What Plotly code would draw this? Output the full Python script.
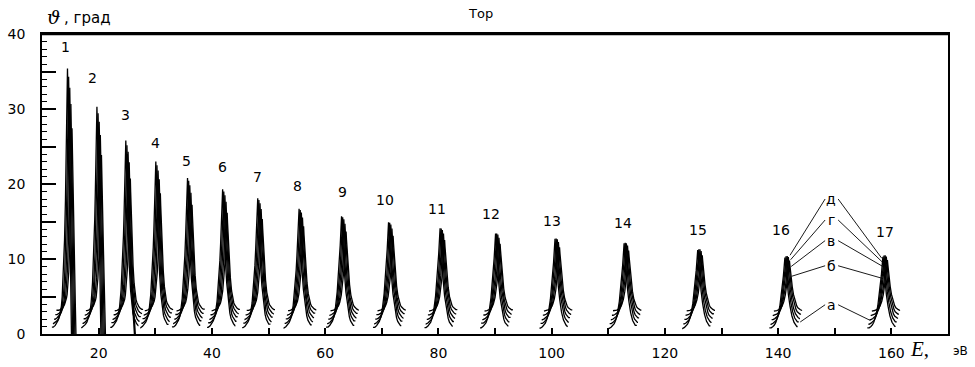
import plotly.graph_objects as go

# ---------------- data ----------------
PEAK_NUM = [str(i) for i in range(1, 18)]
PEAK_E = [14.5, 19.7, 24.8, 30.1, 35.7, 41.9, 48.1, 55.4, 62.9, 71.2,
          80.3, 90.1, 100.6, 112.8, 125.8, 141.2, 158.5]
PEAK_H = [35.2, 30.1, 25.6, 22.8, 20.6, 19.1, 17.9, 16.5, 15.5, 14.7,
          13.9, 13.2, 12.5, 11.9, 11.0, 10.0, 10.1]
# half width (eV) of the outer curve at half height
PEAK_W = [0.36, 0.39, 0.42, 0.45, 0.47, 0.49, 0.50, 0.52, 0.53, 0.54,
          0.55, 0.56, 0.57, 0.58, 0.60, 0.62, 0.62]

# number labels above peaks
LABEL_E = [14.1, 19.0, 24.7, 30.0, 35.6, 41.8, 48.0, 55.2, 63.0, 70.6,
           79.8, 89.3, 100.1, 112.6, 125.9, 140.5, 158.9]
LABEL_Y = [38.3, 34.1, 29.2, 25.5, 23.1, 22.3, 20.9, 19.7, 18.9, 17.9,
           16.7, 16.0, 15.1, 14.8, 13.9, 13.9, 13.6]

# five curves per peak: д, г, в, б, а
CURVE_NAMES = ['д', 'г', 'в', 'б', 'а']
CURVE_FRAC = [1.00, 0.95, 0.89, 0.81, 0.70]     # peak height relative to д
CURVE_WIDTH = [1.00, 0.95, 0.90, 0.85, 0.80]
CURVE_SHIFT = [0.00, 0.20, 0.40, 0.60, 0.80]
CURVE_TAIL = [0.2, 0.85, 1.5, 2.15, 2.8]         # base level of each wing
WING_L = 2.75                                    # extent of left wing, eV
WING_R = 2.25                                    # extent of right wing, eV

# peak profile (offset in half widths, fraction of height)
PU = [0.0, 0.18, 0.45, 0.73, 1.0, 1.45, 2.0, 2.6, 3.0, 3.4, 3.9, 4.5, 5.2, 6.0, 7.0, 8.0]
PF = [1.0, 0.9, 0.75, 0.62, 0.5, 0.35, 0.22, 0.135, 0.1, 0.08, 0.062, 0.047,
      0.036, 0.027, 0.02, 0.015]
# right side of peaks 1 and 2 falls straight to zero
DROP_PEAKS = [0, 1]
PD_DX = [0.0, 0.1, 0.2, 0.33, 0.47, 0.6, 0.7]
PD_F = [1.0, 0.9, 0.76, 0.57, 0.35, 0.14, 0.0]
# extra falling line of peak 3
DROP3_E = [25.0, 25.4, 25.9, 26.4]
DROP3_Y = [24.0, 14.0, 6.0, 0.0]

# letter labels and their leader lines (peaks 16 and 17)
LETTER_E = 149.4
LETTER_Y = [18.0, 15.2, 12.45, 9.1, 3.9]
LEAD_START_L = 148.3
LEAD_START_R = 150.6
LEAD_L_E = [142.1, 142.2, 142.3, 142.4, 143.9]
LEAD_L_Y = [10.5, 9.9, 9.0, 7.7, 1.6]
LEAD_R_E = [158.3, 158.4, 158.5, 158.5, 156.3]
LEAD_R_Y = [10.1, 9.6, 9.0, 7.4, 1.8]

X_TICKS = list(range(20, 161, 10))
X_LABELS = [str(v) if v % 20 == 0 else '' for v in X_TICKS]
Y_TICKS = list(range(0, 41, 5))
Y_LABELS = [str(v) if v % 10 == 0 else '' for v in Y_TICKS]


# ---------------- build curves ----------------
def wing(c, w, p, base, side, extent):
    px, py = [], []
    for u, f in zip(PU, PF):
        if u * w >= extent:
            break
        px.append(c + side * u * w)
        py.append(base + p * f)
    px.append(c + side * extent)
    py.append(py[-1])
    return px, py


xs, ys = [], []
for i, (c, h, w0) in enumerate(zip(PEAK_E, PEAK_H, PEAK_W)):
    for k in range(5):
        p = h * CURVE_FRAC[k]
        w = w0 * CURVE_WIDTH[k]
        cc = c + CURVE_SHIFT[k]
        lx_, ly_ = wing(cc, w, p, CURVE_TAIL[k], -1, WING_L)
        xs += lx_[::-1]
        ys += ly_[::-1]
        if i in DROP_PEAKS:
            for dx, f in zip(PD_DX[1:], PD_F[1:]):
                xs.append(cc + dx)
                ys.append(p * f)
        else:
            rx_, ry_ = wing(cc, w, p, CURVE_TAIL[k], 1, WING_R)
            xs += rx_[1:]
            ys += ry_[1:]
        xs.append(None)
        ys.append(None)

fig = go.Figure()
fig.add_trace(go.Scatter(x=xs, y=ys, mode='lines',
                         line=dict(color='black', width=1.3),
                         hoverinfo='skip'))
fig.add_trace(go.Scatter(x=DROP3_E, y=DROP3_Y, mode='lines',
                         line=dict(color='black', width=2.2),
                         hoverinfo='skip'))

# leader lines
lx, ly = [], []
for k in range(5):
    lx += [LEAD_L_E[k], LEAD_START_L, None, LEAD_START_R, LEAD_R_E[k], None]
    ly += [LEAD_L_Y[k], LETTER_Y[k], None, LETTER_Y[k], LEAD_R_Y[k], None]
fig.add_trace(go.Scatter(x=lx, y=ly, mode='lines',
                         line=dict(color='black', width=0.9),
                         hoverinfo='skip'))

# ---------------- annotations ----------------
ann = []
for t, e, y in zip(PEAK_NUM, LABEL_E, LABEL_Y):
    ann.append(dict(x=e, y=y, xref='x', yref='y', text=t, showarrow=False,
                    font=dict(family='DejaVu Sans', size=14, color='black')))
for t, y in zip(CURVE_NAMES, LETTER_Y):
    ann.append(dict(x=LETTER_E, y=y, xref='x', yref='y', text=t, showarrow=False,
                    font=dict(family='DejaVu Sans', size=14, color='black')))

ann.append(dict(x=0.003, y=1.057, xref='paper', yref='paper', text='<i>ϑ</i>',
                showarrow=False, xanchor='left', yanchor='middle',
                font=dict(family='DejaVu Serif', size=19, color='black')))
ann.append(dict(x=0.022, y=1.055, xref='paper', yref='paper', text=', град',
                showarrow=False, xanchor='left', yanchor='middle',
                font=dict(family='DejaVu Sans', size=15, color='black')))
ann.append(dict(x=0.4845, y=1.067, xref='paper', yref='paper', text='Тор',
                showarrow=False, xanchor='center', yanchor='middle',
                font=dict(family='DejaVu Sans', size=13, color='black')))
ann.append(dict(x=0.956, y=-0.05, xref='paper', yref='paper', text='<i>E</i>,',
                showarrow=False, xanchor='left', yanchor='middle',
                font=dict(family='Liberation Serif', size=21, color='black')))
ann.append(dict(x=1.003, y=-0.057, xref='paper', yref='paper', text='эВ',
                showarrow=False, xanchor='left', yanchor='middle',
                font=dict(family='DejaVu Sans', size=12, color='black')))

fig.update_layout(
    width=975, height=367,
    margin=dict(l=42, r=27, t=34, b=33),
    plot_bgcolor='white', paper_bgcolor='white',
    showlegend=False,
    annotations=ann,
    shapes=[dict(type='line', xref='paper', yref='paper', x0=0, x1=1, y0=1, y1=1,
                 line=dict(color='black', width=2.5))],
    xaxis=dict(range=[10, 170], showgrid=False, zeroline=False, automargin=False,
               showline=True, linecolor='black', linewidth=1.5, mirror=True,
               ticks='inside', tickvals=X_TICKS, ticktext=X_LABELS,
               ticklen=6, tickwidth=1.5, tickcolor='black',
               ticklabelstandoff=5,
               tickfont=dict(family='DejaVu Sans', size=14, color='black')),
    yaxis=dict(range=[0, 40], showgrid=False, zeroline=False, automargin=False,
               showline=True, linecolor='black', linewidth=1.5, mirror=True,
               ticks='inside', tickvals=Y_TICKS, ticktext=Y_LABELS,
               ticklen=14, tickwidth=1.5, tickcolor='black',
               ticklabelstandoff=12,
               minor=dict(ticks='inside', dtick=1, ticklen=5, tickwidth=1.2,
                          tickcolor='black'),
               tickfont=dict(family='DejaVu Sans', size=14, color='black')),
)

fig.write_html('out.html', config={'displayModeBar': False},
               post_script="document.body.style.margin='0';document.body.style.overflow='hidden';")
